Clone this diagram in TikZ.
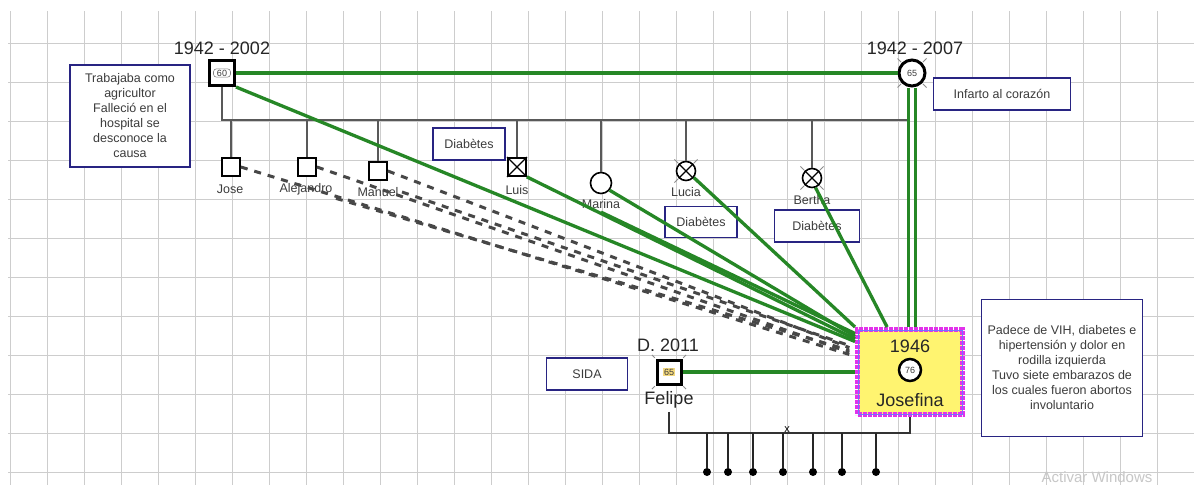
\documentclass[tikz,border=0pt]{standalone}
\usepackage{fontspec}
\setmainfont{Liberation Sans}
\definecolor{relgreen}{RGB}{38,135,38}
\definecolor{notenavy}{RGB}{40,36,130}
\definecolor{gridgray}{RGB}{205,205,205}
\definecolor{txtgray}{RGB}{60,60,60}
\definecolor{josyellow}{RGB}{255,244,112}
\definecolor{josmagenta}{RGB}{225,50,235}
\definecolor{felipegold}{RGB}{240,200,70}
\begin{document}
\begin{tikzpicture}[x=1pt,y=-1pt,
  every node/.style={font=\fontsize{12.5}{15}\selectfont,text=txtgray},
  nota/.style={draw=notenavy,line width=1.8pt,fill=white,align=center,inner sep=2pt},
  varon/.style={draw,line width=1.8pt,fill=white,minimum size=18pt,inner sep=0pt},
  mujer/.style={draw,circle,line width=1.6pt,fill=white,minimum size=19pt,inner sep=0pt},
  big/.style={font=\fontsize{18}{20}\selectfont,text=black!85},
  edad/.style={font=\fontsize{9}{10}\selectfont,inner sep=1pt},
  rel/.style={relgreen,line width=3.3pt},
  lejano/.style={black!72,line width=3pt,dash pattern=on 7pt off 7pt,shorten >=6pt},
  kid/.style={black!65,line width=1.3pt},
  handle/.style={black!45,line width=0.9pt}]
  \useasboundingbox (0,0) rectangle (1194,485);
  \fill[white] (0,0) rectangle (1194,485);
  % grid
  \draw[gridgray,line width=0.8pt] (10,11) -- (10,485);
  \foreach \x in {0,...,31} \draw[gridgray,line width=0.8pt] (47+37*\x,11) -- (47+37*\x,485);
  \foreach \y in {0,...,11} \draw[gridgray,line width=0.8pt] (8,43+39*\y) -- (1194,43+39*\y);

  % notes
  \node[nota,minimum width=120pt,minimum height=102pt] (notapadre) at (130,116) {Trabajaba como\\agricultor\\Falleció en el\\hospital se\\desconoce la\\causa};
  \node[nota,minimum width=137pt,minimum height=32pt] (infarto) at (1002,94) {Infarto al corazón};
  \node[nota,minimum width=72pt,minimum height=32pt] (diabluis) at (469,144) {Diabètes};
  \node[nota,minimum width=72pt,minimum height=31pt] (diablucia) at (701,222) {Diabètes};
  \node[nota,minimum width=85pt,minimum height=32pt] (diabbertha) at (817,226) {Diabètes};
  \node[nota,minimum width=81pt,minimum height=32pt] (sida) at (587,374) {SIDA};
  \node[nota,minimum width=161pt,minimum height=137pt] (notajosefina) at (1062,368) {Padece de VIH, diabetes e\\hipertensión y dolor en\\rodilla izquierda\\Tuvo siete embarazos de\\los cuales fueron abortos\\involuntario};

  % parents
  \node[varon,line width=3pt,minimum size=25pt] (padre) at (222,73) {};
  \node[edad,draw=black!50,rounded corners=3pt,minimum width=17pt,line width=0.6pt] (padreedad) at (padre) {60};
  \node[big] (padrefechas) at (222,48) {1942 - 2002};
  \node[mujer,edad,line width=3pt,minimum size=26pt] (madre) at (912,73) {65};
  \node[big] (madrefechas) at (915,48) {1942 - 2007};
  \coordinate (hermL) at (222,120);
  \coordinate (hermR) at (907,120);

  % siblings
  \node[varon] (jose) at (231,167) {};
  \node (josen) at (230,189) {Jose};
  \node[varon] (alejandro) at (307,167) {};
  \node (alejandron) at (306,189) {Alejandro};
  \node[varon] (manuel) at (378,171) {};
  \node (manueln) at (378,192) {Manuel};
  \node[varon] (luis) at (517,167) {};
  \node (luisn) at (517,190) {Luis};
  \node[mujer,minimum size=21pt] (marina) at (601,183) {};
  \node (marinan) at (601,204) {Marina};
  \node[mujer] (lucia) at (686,171) {};
  \node (lucian) at (686,192) {Lucia};
  \node[mujer] (bertha) at (812,178) {};
  \node (berthan) at (812,200) {Bertha};
  \draw[line width=1.2pt] (luis.north west) -- (luis.south east) (luis.north east) -- (luis.south west);
  \foreach \n in {lucia,bertha}
    \draw[line width=1.2pt] (\n.45) -- (\n.225) (\n.135) -- (\n.315);

  % index couple
  \node[draw=josmagenta,line width=5pt,dash pattern=on 4pt off 1pt,fill=josyellow,minimum width=105pt,minimum height=85pt] (josefina) at (910,372) {};
  \draw[blue!55,line width=0.8pt] ([shift={(3,3)}]josefina.north west) rectangle ([shift={(-3,-3)}]josefina.south east);
  \node[big] (josefinafecha) at (910,346) {1946};
  \node[mujer,edad,line width=2.5pt,minimum size=22pt] (josefinasym) at (910,370) {76};
  \node[big] (josefinan) at (910,400) {Josefina};
  \node[varon,line width=3pt,minimum size=24pt] (felipe) at (669,372) {};
  \node[edad,fill=felipegold!70] (felipeedad) at (felipe) {65};
  \node[big] (felipefecha) at (668,345) {D. 2011};
  \node[big] (felipen) at (669,400) {Felipe};

  % handles
  \foreach \n in {madre,lucia,bertha}
    \foreach \a in {45,135,225,315}
      \draw[handle] ([shift={(\a:1pt)}]\n.\a) -- ++(\a:5pt);
  \foreach \c/\a in {north east/45,north west/135,south west/225,south east/315}
    \draw[handle] ([shift={(\a:1pt)}]felipe.\c) -- ++(\a:4pt);

  % sibship
  \draw[kid] (padre) -- (hermL) -- (hermR);
  \foreach \h in {jose,alejandro,manuel,luis,marina,lucia,bertha}
    \draw[kid] (\h) -- (\h |- hermL);

  % distant relations
  \draw[lejano] (jose.east) -- (josefina.164);
  \draw[lejano] (alejandro.east) -- (josefina.162);
  \draw[lejano] (alejandron.south east) -- (josefina.160);
  \draw[lejano] (manuel.east) -- (josefina.158);
  \draw[lejano] (manueln.east) -- (josefina.156);

  % close relations
  \draw[rel] (padre) -- (madre);
  \draw[rel] (padre.south east) -- (josefina.151);
  \draw[rel] (luis.south east) -- (josefina.149);
  \draw[rel] (marina.-40) -- (josefina.147);
  \draw[rel] (marinan.south) -- (josefina.145);
  \draw[rel] (lucia.-40) -- (josefina.north west);
  \draw[rel] (bertha.-70) -- (josefina.117);
  \draw[rel] ([xshift=-3.5pt]madre.south) -- ([xshift=-3.5pt]madre.south |- josefina.north);
  \draw[rel] ([xshift=3.5pt]madre.south) -- ([xshift=3.5pt]madre.south |- josefina.north);
  \draw[rel] (felipe) -- (josefina);

  % children
  \coordinate (hijL) at (669,433);
  \coordinate (hijR) at (910,433);
  \draw[kid,black!80] (felipen) -- (hijL) -- (hijR) -- (josefina);
  \foreach \x [count=\i] in {707,728,753,783,813,842,876} {
    \node[circle,fill=black,inner sep=0pt,minimum size=8pt] (hijo\i) at (\x,472) {};
    \draw[black!85,line width=1.8pt] (hijo\i) -- (hijo\i |- hijR);
  }
  \node[font=\fontsize{11}{11}\selectfont,text=black] (marca) at (787,430) {x};
  \node[font=\fontsize{15}{15}\selectfont,text=black!22,anchor=base] (marcaagua) at (1097,482) {Activar Windows};
\end{tikzpicture}
\end{document}
